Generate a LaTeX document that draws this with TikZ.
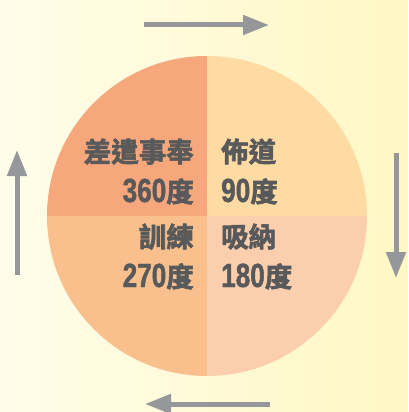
\documentclass[tikz,border=0pt]{standalone}
\usepackage{fontspec}
\usetikzlibrary{arrows.meta}
\newfontfamily\cjkb{Noto Sans CJK TC}[UprightFont={* Bold}, FakeBold=2.2]
\newfontfamily\numf{Liberation Sans}[UprightFont={* Bold}, FakeStretch=0.78, FakeBold=1.2]
\newcommand\numtxt[1]{{\numf\fontsize{33.5}{36}\selectfont #1}}
\definecolor{bgL}{HTML}{FFFDEA}
\definecolor{bgR}{HTML}{FFF7C4}
\definecolor{qTL}{HTML}{F6A77C}
\definecolor{qTR}{HTML}{FEDBA3}
\definecolor{qBL}{HTML}{F9BF8D}
\definecolor{qBR}{HTML}{FBCEAD}
\definecolor{arr}{HTML}{96979B}
\definecolor{txt}{HTML}{58595B}
\tikzset{
  cyclearrow/.style={draw=arr, line width=5pt, -{Triangle[length=26pt,width=19pt]}},
  lbl/.style={inner sep=0pt, text=txt, font=\cjkb\fontsize{27.5}{30}\selectfont},
}
\begin{document}
\begin{tikzpicture}[x=1pt,y=-1pt]
\useasboundingbox (0,0) rectangle (408,412);
\shade[left color=bgL, right color=bgR] (0,0) rectangle (408,412);
\coordinate (c) at (207,216);
\fill[qTL] (c) -- ++(-160,0) arc[start angle=180, end angle=90, radius=160pt] -- cycle;
\fill[qTR] (c) -- ++(0,-160) arc[start angle=90, end angle=0, radius=160pt] -- cycle;
\fill[qBR] (c) -- ++(160,0) arc[start angle=0, end angle=-90, radius=160pt] -- cycle;
\fill[qBL] (c) -- ++(0,160) arc[start angle=-90, end angle=-180, radius=160pt] -- cycle;
% labels
\node[lbl, anchor=base east] (tl1) at (194,162) {差遣事奉};
\node[lbl, anchor=base east] (tl2) at (194,202) {\numtxt{360}度};
\node[lbl, anchor=base west] (tr1) at (221,162) {佈道};
\node[lbl, anchor=base west] (tr2) at (221,202) {\numtxt{90}度};
\node[lbl, anchor=base east] (bl1) at (194,247) {訓練};
\node[lbl, anchor=base east] (bl2) at (194,287) {\numtxt{270}度};
\node[lbl, anchor=base west] (br1) at (221,247) {吸納};
\node[lbl, anchor=base west] (br2) at (221,287) {\numtxt{180}度};
% arrows
\coordinate (ta) at (144,25); \coordinate (tb) at (269,25);
\coordinate (ra) at (396,153); \coordinate (rb) at (396,278);
\coordinate (ba) at (270,404); \coordinate (bb) at (145,404);
\coordinate (la) at (17,275); \coordinate (lb) at (17,150);
\draw[cyclearrow] (ta) -- (tb);
\draw[cyclearrow] (ra) -- (rb);
\draw[cyclearrow] (ba) -- (bb);
\draw[cyclearrow] (la) -- (lb);
\end{tikzpicture}
\end{document}
